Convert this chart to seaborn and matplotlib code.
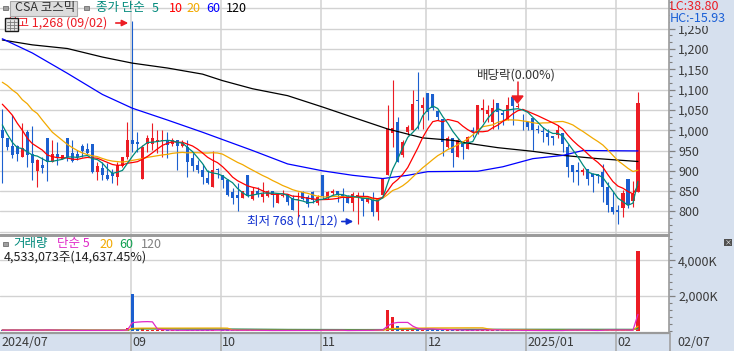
import numpy as np
import pandas as pd
import matplotlib
matplotlib.use("Agg")
import matplotlib.pyplot as plt
import seaborn as sns
from matplotlib.patches import Rectangle, Polygon, FancyArrowPatch
from matplotlib.lines import Line2D
from matplotlib.ticker import FixedLocator, MultipleLocator, FuncFormatter, AutoMinorLocator

# ---------------- data ----------------
opens = [1000, 980, 961, 961, 935, 996, 941, 900, 914, 980,
         922, 941, 930, 980, 943, 941, 961, 953, 966, 898,
         908, 889, 895, 884, 912, 933, 977, 971, 881, 967,
         967, 972, 973, 976, 965, 976, 961, 959, 931, 914,
         903, 883, 861, 904, 889, 877, 848, 840, 832, 889,
         830, 850, 836, 839, 851, 820, 838, 844, 832, 827,
         848, 835, 848, 820, 889, 832, 845, 850, 840, 838,
         822, 832, 834, 824, 828, 799, 840, 889, 992, 1021,
         939, 996, 1000, 1074, 1054, 1091, 1088, 1047, 1027, 959,
         980, 935, 970, 954, 1000, 992, 1050, 1039, 1021, 1066,
         1043, 1025, 1082, 1058, 1031, 1021, 1031, 1002, 999, 992,
         986, 988, 992, 959, 914, 902, 896, 904, 891, 891,
         898, 861, 811, 803, 809, 881, 826, 848]
highs = [1051, 982, 1037, 963, 1017, 1000, 1010, 930, 935, 980,
         976, 972, 940, 980, 976, 951, 966, 968, 966, 922,
         922, 920, 905, 922, 935, 1019, 1268, 996, 963, 988,
         1018, 1000, 1000, 996, 980, 976, 976, 976, 945, 926,
         918, 902, 949, 906, 889, 881, 857, 869, 850, 889,
         861, 861, 873, 852, 851, 844, 853, 844, 840, 848,
         850, 840, 850, 840, 889, 850, 855, 850, 857, 840,
         848, 848, 848, 836, 848, 832, 881, 1062, 1123, 1033,
         975, 1012, 1099, 1142, 1082, 1091, 1090, 1050, 1027, 985,
         980, 980, 970, 986, 1008, 1062, 1078, 1062, 1078, 1066,
         1050, 1082, 1082, 1066, 1041, 1021, 1031, 1013, 1009, 1003,
         986, 1013, 992, 967, 914, 922, 906, 904, 894, 891,
         918, 873, 848, 816, 852, 881, 876, 1093]
lows = [869, 951, 932, 925, 935, 910, 877, 861, 894, 876,
        922, 914, 928, 924, 922, 926, 934, 939, 895, 877,
        877, 877, 869, 865, 910, 930, 947, 947, 881, 947,
        951, 943, 935, 931, 960, 903, 959, 885, 900, 895,
        867, 868, 861, 882, 857, 838, 818, 800, 832, 836,
        828, 836, 824, 835, 811, 820, 836, 816, 803, 786,
        828, 812, 820, 816, 831, 830, 840, 824, 801, 820,
        801, 768, 790, 820, 790, 778, 838, 889, 959, 922,
        935, 988, 1000, 1004, 1004, 1025, 1050, 1025, 937, 955,
        910, 935, 929, 954, 984, 990, 1021, 1021, 1004, 1004,
        1014, 1025, 1013, 1054, 1000, 1000, 951, 992, 972, 963,
        963, 980, 947, 885, 873, 866, 889, 865, 848, 870,
        824, 799, 794, 770, 787, 809, 811, 848]
closes = [980, 959, 939, 941, 955, 939, 920, 926, 908, 922,
          941, 933, 938, 935, 925, 933, 950, 945, 898, 912,
          889, 881, 888, 914, 933, 977, 967, 967, 958, 980,
          980, 976, 976, 963, 975, 960, 968, 922, 912, 903,
          885, 871, 903, 902, 877, 840, 832, 832, 850, 838,
          850, 844, 844, 850, 840, 844, 840, 824, 803, 831,
          831, 819, 827, 835, 838, 848, 850, 840, 832, 820,
          844, 840, 825, 832, 799, 832, 881, 1004, 1006, 922,
          972, 1008, 1064, 1072, 1062, 1045, 1055, 1033, 972, 981,
          945, 976, 959, 984, 996, 1062, 1054, 1050, 1054, 1045,
          1037, 1062, 1060, 1060, 1029, 1009, 1000, 1000, 996, 984,
          980, 1000, 967, 910, 898, 896, 902, 880, 885, 888,
          861, 816, 799, 799, 846, 816, 843, 1066]
volumes_k = [60, 45, 70, 40, 55, 80, 50, 65, 35, 90,
             45, 40, 30, 60, 45, 35, 40, 30, 70, 40,
             45, 35, 40, 55, 50, 150, 2100, 190, 150, 90,
             80, 60, 45, 50, 35, 60, 30, 70, 45, 40,
             55, 35, 80, 30, 45, 60, 50, 55, 30, 70,
             40, 25, 45, 30, 40, 45, 25, 35, 50, 45,
             30, 35, 40, 35, 110, 40, 25, 30, 45, 35,
             50, 60, 40, 25, 55, 120, 70, 1190, 780, 290,
             110, 85, 150, 140, 80, 140, 90, 60, 100, 55,
             70, 60, 45, 50, 40, 110, 60, 50, 70, 60,
             40, 55, 60, 25, 40, 35, 50, 25, 30, 35,
             25, 40, 45, 110, 50, 45, 25, 45, 40, 30,
             100, 95, 50, 60, 45, 55, 31, 4533]

ma5_head = [1013, 990, 970, 957]
ma10_head = [1064, 1051, 1037, 1017, 1000, 980, 967, 959, 951]
ma20_head = [1118, 1110, 1099, 1090, 1075, 1065, 1050, 1041, 1025, 1010,
             995, 985, 975, 965, 957, 950, 944, 940, 937]
ma60_idx = [0, 6, 13, 20, 26, 33, 40, 46, 50, 57, 64, 70, 76, 81, 85, 95, 100, 106, 112, 116, 127]
ma60_val = [1225, 1190, 1140, 1088, 1054, 1025, 995, 968, 950, 917, 900, 889, 881, 889, 898, 899, 910, 930, 938, 950, 949]
ma120_idx = [0, 6, 13, 20, 26, 33, 40, 44, 50, 57, 64, 70, 77, 84, 90, 94, 99, 106, 112, 119, 127]
ma120_val = [1222, 1210, 1201, 1180, 1165, 1153, 1138, 1122, 1102, 1085, 1057, 1032, 1003, 981, 975, 966, 957, 948, 938, 930, 923]

month_labels = ['09', '10', '11', '12', '2025/01', '02']
month_first_idx = [26, 44, 64, 85, 105, 123]
first_label = '2024/07'
last_label = '02/07'
price_ticks = [800, 850, 900, 950, 1000, 1050, 1100, 1150, 1200, 1250]
vol_ticks_k = [2000, 4000]

# ---------------- styling ----------------
sns.set_theme(style='white')
plt.rcParams['font.family'] = ['Noto Sans CJK KR', 'DejaVu Sans']

RED = '#EC1C24'
BLUE = '#1B5FCF'
TEAL = '#00897B'
ORANGE = '#F2A900'
MABLUE = '#0000FF'
MAGENTA = '#E028C8'
GREEN = '#10A050'
GRID = '#D2D2D2'
STRIP = '#D6E0EE'
SPINE = '#9A9A9A'
TXT = '#3A3A3A'
FS = 9

W, H = 734, 351
fig = plt.figure(figsize=(W / 100, H / 100), dpi=100)
fig.patch.set_facecolor('white')

def fx(x):
    return x / W

def fy(y):
    return 1 - y / H

# background strips (drawn beneath the axes)
for (x0, y0, w, h) in [(669, 0, W - 669, 235), (669, 235, W - 669, 98), (0, 333, W, H - 333)]:
    fig.patches.append(Rectangle((fx(x0), fy(y0 + h)), w / W, h / H, transform=fig.transFigure,
                                 facecolor=STRIP, edgecolor='none', zorder=-5))

df = pd.DataFrame({'idx': np.arange(len(closes)), 'open': opens, 'high': highs,
                   'low': lows, 'close': closes, 'volume': np.array(volumes_k) * 1000.0})
df['up'] = df['close'] >= df['open']
df['color'] = np.where(df['up'], RED, BLUE)

ma5 = df['close'].rolling(5).mean()
ma5.iloc[:len(ma5_head)] = ma5_head
ma10 = df['close'].rolling(10).mean()
ma10.iloc[:len(ma10_head)] = ma10_head
ma20 = df['close'].rolling(20).mean()
ma20.iloc[:len(ma20_head)] = ma20_head

XMIN, XMAX = -0.46, 133.2
PMIN, PMAX = 742.1, 1320.4
VMIN, VMAX = -107e3, 5373e3

ax_p = fig.add_axes([0, fy(235), 669 / W, 235 / H])
ax_v = fig.add_axes([0, fy(333), 669 / W, 97 / H])
for ax in (ax_p, ax_v):
    ax.set_facecolor('white')
    ax.set_xlim(XMIN, XMAX)
    ax.set_xticks([])
    for s in ('top', 'left', 'right', 'bottom'):
        ax.spines[s].set_visible(False)
    ax.spines['right'].set_visible(True)
    ax.spines['right'].set_color(SPINE)
    ax.spines['right'].set_linewidth(1.2)

ax_p.set_ylim(PMIN, PMAX)
ax_v.set_ylim(VMIN, VMAX)
ax_p.spines['bottom'].set_visible(True)
ax_p.spines['bottom'].set_color(SPINE)
ax_p.spines['bottom'].set_linewidth(1.4)
ax_v.spines['top'].set_visible(True)
ax_v.spines['top'].set_color(SPINE)
ax_v.spines['top'].set_linewidth(1.4)
ax_v.spines['bottom'].set_visible(True)
ax_v.spines['bottom'].set_color(SPINE)
ax_v.spines['bottom'].set_linewidth(1.6)

# grid
grid_x = [m - 0.35 for m in month_first_idx]
for g in range(750, 1320, 50):
    ax_p.axhline(g, color=GRID, lw=1, zorder=0)
for gx in grid_x:
    ax_p.axvline(gx, color=GRID, lw=1.1, zorder=0)
    ax_v.axvline(gx, color=GRID, lw=1.1, zorder=0)
for v in vol_ticks_k:
    ax_v.axhline(v * 1000, color=GRID, lw=1, zorder=0)

# candles
ax_p.vlines(df['idx'], df['low'], df['high'], colors=df['color'], lw=0.8, zorder=2)
body = np.maximum((df['close'] - df['open']).abs(), 2.0)
ax_p.bar(df['idx'], body, bottom=np.minimum(df['open'], df['close']), width=0.62,
         color=df['color'], linewidth=0, zorder=3)

# moving averages
sns.lineplot(x=ma120_idx, y=ma120_val, ax=ax_p, color='black', lw=0.9, zorder=4)
sns.lineplot(x=ma60_idx, y=ma60_val, ax=ax_p, color=MABLUE, lw=0.9, zorder=4)
sns.lineplot(x=df['idx'], y=ma20, ax=ax_p, color=ORANGE, lw=0.9, zorder=4)
sns.lineplot(x=df['idx'], y=ma10, ax=ax_p, color='#FF0000', lw=0.9, zorder=4)
sns.lineplot(x=df['idx'], y=ma5, ax=ax_p, color=TEAL, lw=0.9, zorder=4)
ax_p.set_xlabel('')
ax_p.set_ylabel('')

# price axis
ax_p.yaxis.tick_right()
ax_p.yaxis.set_major_locator(FixedLocator(price_ticks))
ax_p.yaxis.set_major_formatter(FuncFormatter(lambda v, p: f'{int(v):,}'))
ax_p.yaxis.set_minor_locator(AutoMinorLocator(3))
ax_p.tick_params(axis='y', which='major', direction='out', length=4.5, width=0.9, color='#808080',
                 labelsize=FS, pad=2, labelcolor=TXT)
ax_p.tick_params(axis='y', which='minor', direction='out', length=2.2, width=0.8, color='#808080')

# volume
ax_v.bar(df['idx'], df['volume'], width=0.62, color=df['color'], linewidth=0, zorder=2)
vs = df['volume']
sns.lineplot(x=df['idx'], y=vs.rolling(120, min_periods=1).mean(), ax=ax_v, color='#8C8C8C', lw=0.9, zorder=3)
sns.lineplot(x=df['idx'], y=vs.rolling(60, min_periods=1).mean(), ax=ax_v, color=GREEN, lw=0.9, zorder=3)
sns.lineplot(x=df['idx'], y=vs.rolling(20, min_periods=1).mean(), ax=ax_v, color=ORANGE, lw=0.9, zorder=3)
sns.lineplot(x=df['idx'], y=vs.rolling(5, min_periods=1).mean(), ax=ax_v, color=MAGENTA, lw=0.9, zorder=3)
ax_v.set_xlabel('')
ax_v.set_ylabel('')
ax_v.yaxis.tick_right()
ax_v.yaxis.set_major_locator(FixedLocator([v * 1000 for v in vol_ticks_k]))
ax_v.yaxis.set_major_formatter(FuncFormatter(lambda v, p: f'{int(round(v / 1000)):,}K'))
ax_v.yaxis.set_minor_locator(MultipleLocator(400000))
ax_v.tick_params(axis='y', which='major', direction='out', length=4.5, width=0.9, color='#808080',
                 labelsize=FS, pad=2, labelcolor=TXT)
ax_v.tick_params(axis='y', which='minor', direction='out', length=2.2, width=0.8, color='#808080')

# date strip
trans = ax_v.get_xaxis_transform()
for gx, lab in zip(grid_x, month_labels):
    ax_v.plot([gx, gx], [0, -0.2], transform=trans, clip_on=False, color='#A8A8A8', lw=1.1)
    ax_v.text(gx + 0.3, -0.095, lab, transform=trans, ha='left', va='center', fontsize=FS,
              color=TXT, clip_on=False)
ax_v.text(XMIN + 0.3, -0.095, first_label, transform=trans, ha='left', va='center', fontsize=FS,
          color=TXT, clip_on=False)
fig.text(fx(677), fy(342), last_label, ha='left', va='center', fontsize=FS, color=TXT)
fig.add_artist(Line2D([fx(669.5), fx(669.5)], [0, fy(333)], color='#A0A0A0', lw=1.2))

# ---------------- text overlays ----------------
def ftext(x, y, s, color, size=FS, **kw):
    return fig.text(fx(x), fy(y), s, color=color, fontsize=size, ha='left', va='center', **kw)

# top legend
fig.patches.append(Rectangle((fx(3), fy(10)), 4.5 / W, 4.5 / H, transform=fig.transFigure,
                             facecolor='#A0A0A0', edgecolor='#707070', lw=0.6, zorder=5))
fig.patches.append(Rectangle((fx(10), fy(15.5)), 67 / W, 14.5 / H, transform=fig.transFigure,
                             facecolor='#DCDCDC', edgecolor='#A8A8A8', lw=0.8, zorder=5))
ftext(15, 8, 'CSA 코스믹', '#303030', zorder=6)
fig.patches.append(Rectangle((fx(84), fy(10)), 4.5 / W, 4.5 / H, transform=fig.transFigure,
                             facecolor='#A0A0A0', edgecolor='#707070', lw=0.6, zorder=5))
ftext(96, 8, '종가 단순', TEAL)
ftext(152, 8, '5', TEAL)
ftext(169, 8, '10', '#FF0000')
ftext(186, 8, '20', ORANGE)
ftext(206, 8, '60', MABLUE)
ftext(226, 8, '120', 'black')

# high marker
ftext(6, 23, '최고 1,268 (09/02)', RED)
fig.add_artist(FancyArrowPatch((fx(113), fy(23)), (fx(131), fy(23)), transform=fig.transFigure,
                               arrowstyle='-|>', mutation_scale=9, color=RED, lw=1.2))
fig.patches.append(Rectangle((fx(5), fy(31)), 13 / W, 13 / H, transform=fig.transFigure,
                             facecolor='#E4E4E4', edgecolor='#1A1A1A', lw=1.0, zorder=7))
for yy in (21.5, 25, 28):
    fig.add_artist(Line2D([fx(6.5), fx(16.5)], [fy(yy), fy(yy)], color='#7A7A7A', lw=0.6, zorder=8))
for xx in (10, 13.5):
    fig.add_artist(Line2D([fx(xx), fx(xx)], [fy(20), fy(30)], color='#7A7A7A', lw=0.6, zorder=8))

# low marker
ftext(247, 221.5, '최저 768 (11/12)', '#1030D0')
fig.add_artist(FancyArrowPatch((fx(339), fy(221.5)), (fx(356), fy(221.5)), transform=fig.transFigure,
                               arrowstyle='-|>', mutation_scale=9, color='#1030D0', lw=1.2))

# ex-dividend marker
ftext(477, 75, '배당락(0.00%)', '#333333')
fig.add_artist(Line2D([fx(517.5), fx(517.5)], [fy(82), fy(97)], color=RED, lw=1.1))
fig.patches.append(Polygon([(fx(512), fy(96)), (fx(523), fy(96)), (fx(517.5), fy(103))], closed=True,
                           transform=fig.transFigure, facecolor=RED, edgecolor=RED, zorder=6))

# LC / HC
ftext(670, 6, 'LC:38.80', RED, zorder=6)
ftext(670, 19, 'HC:-15.93', '#1A5FD6', zorder=6,
      bbox=dict(facecolor=STRIP, edgecolor='none', pad=0.2))

# volume legend
fig.patches.append(Rectangle((fx(3), fy(246)), 4.5 / W, 4.5 / H, transform=fig.transFigure,
                             facecolor='#A0A0A0', edgecolor='#707070', lw=0.6, zorder=5))
ftext(13, 244, '거래량', TEAL)
ftext(57, 244, '단순 5', MAGENTA)
ftext(99, 244, '20', ORANGE)
ftext(119, 244, '60', GREEN)
ftext(141, 244, '120', '#808080')
ftext(4, 257.5, '4,533,073주(14,637.45%)', '#202020')

# small close icon on volume panel
fig.patches.append(Rectangle((fx(724), fy(246)), 8 / W, 7 / H, transform=fig.transFigure,
                             facecolor='#505050', edgecolor='none', zorder=6))
fig.text(fx(728), fy(242.5), '×', color='white', fontsize=5, ha='center', va='center', zorder=7)

fig.savefig('out.png', dpi=100, facecolor='white')
